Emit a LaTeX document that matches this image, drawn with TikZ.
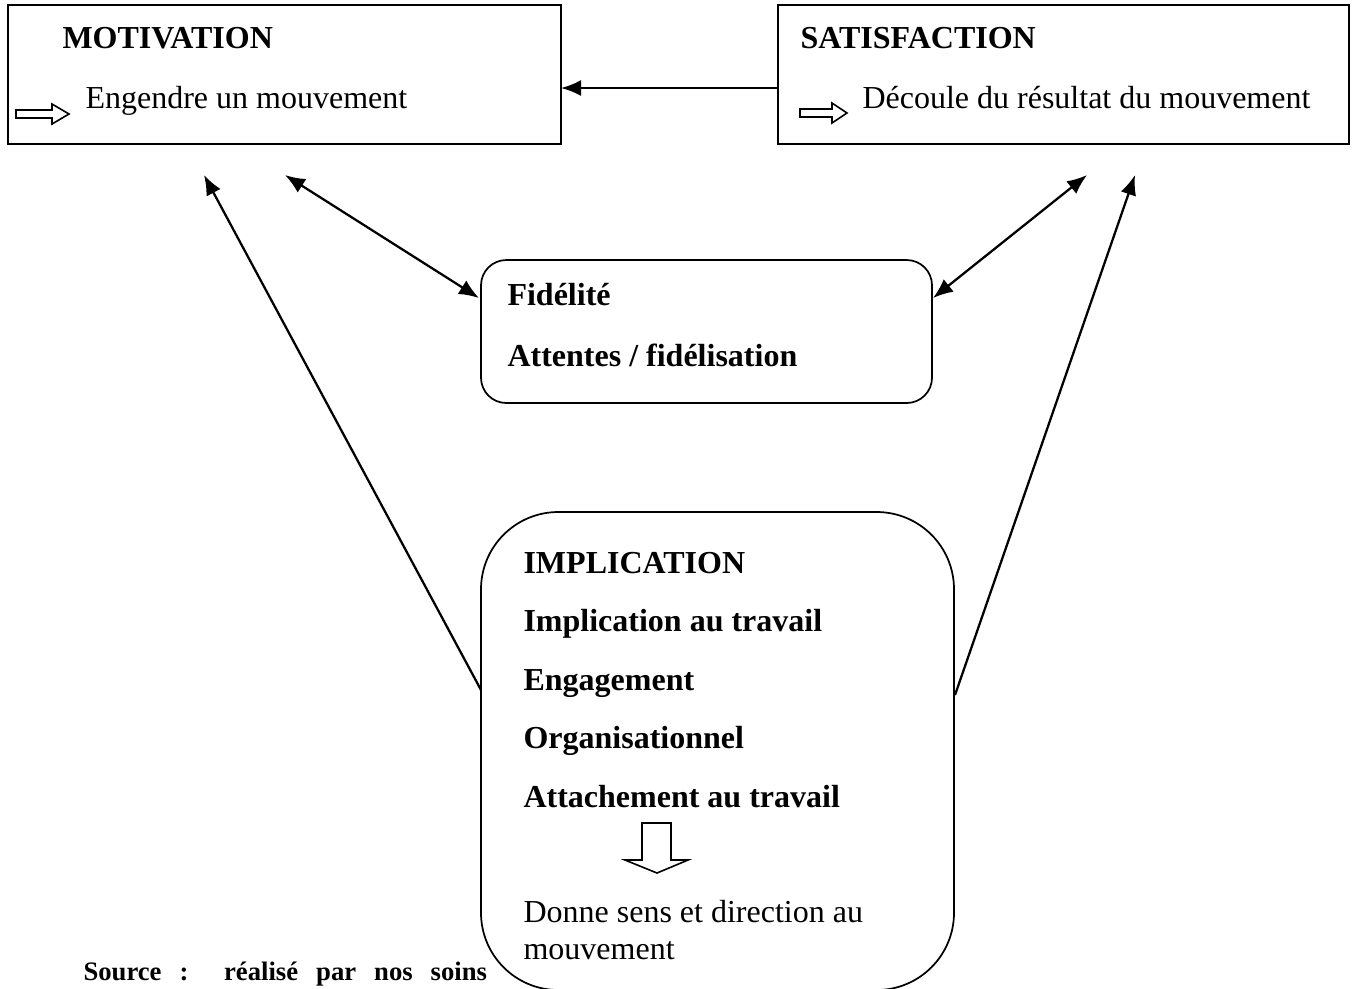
\documentclass[tikz,border=0pt]{standalone}
\usepackage{fontspec}
\setmainfont{Liberation Serif}
\usetikzlibrary{arrows.meta,fit}
\begin{document}
\begin{tikzpicture}[x=0.375pt,y=-0.375pt,
  box/.style={draw,line width=0.65pt,inner sep=0pt},
  lbl/.style={anchor=base west,inner sep=0pt,font=\fontsize{12}{14}\selectfont},
  blbl/.style={lbl,font=\fontsize{12}{14}\selectfont\bfseries},
  tip/.tip={Latex[length=7.5pt,width=6pt]},
  conn/.style={line width=0.85pt,-tip},
  dconn/.style={line width=0.85pt,tip-tip},
  hollow/.style={draw,line width=0.6pt,fill=white}]
\useasboundingbox (0,0) rectangle (1357,988);
\clip (0,0) rectangle (1357,988);
% boxes
\node[box,fit={(8,5) (561,144)}] (mot) {};
\node[box,fit={(778,5) (1349,144)}] (sat) {};
\node[box,rounded corners=9.5pt,fit={(481,260) (932,403)}] (fid) {};
\node[box,rounded corners=29pt,fit={(481,512) (954,990)}] (imp) {};
% texts
\node[blbl] (motT) at (62,48) {MOTIVATION};
\node[lbl] (motD) at (85,108) {Engendre un mouvement};
\node[blbl] (satT) at (800,48) {SATISFACTION};
\node[lbl] (satD) at (862,108) {Découle du résultat du mouvement};
\node[blbl] (fid1) at (507,305) {Fidélité};
\node[blbl] (fid2) at (507,366) {Attentes / fidélisation};
\node[blbl] (imp1) at (523,573) {IMPLICATION};
\node[blbl] (imp2) at (523,631.5) {Implication au travail};
\node[blbl] (imp3) at (523,690) {Engagement};
\node[blbl] (imp4) at (523,748.5) {Organisationnel};
\node[blbl] (imp5) at (523,807) {Attachement au travail};
\node[lbl] (imp6) at (523,922) {Donne sens et direction au};
\node[lbl] (imp7) at (523,959) {mouvement};
\node[anchor=base west,inner sep=0pt] (src) at (83,980) {\fontsize{10}{12}\selectfont\bfseries\spaceskip=0.675em Source :\hspace{0.58em} réalisé par nos soins};
% hollow arrows
\draw[hollow] (16,110) -- (52,110) -- (52,104) -- (69,114) -- (52,124) -- (52,118) -- (16,118) -- cycle;
\draw[hollow] (800,109) -- (832,109) -- (832,103) -- (847,113) -- (832,123) -- (832,117) -- (800,117) -- cycle;
\draw[hollow] (642,823) -- (671,823) -- (671,860) -- (688,860) -- (657,873) -- (625,860) -- (642,860) -- cycle;
% connector end points
\coordinate (a1) at (778,88);
\coordinate (a2) at (561,88);
\coordinate (b1) at (481,690);
\coordinate (b2) at (204,175);
\coordinate (c1) at (285,175);
\coordinate (c2) at (479,298);
\coordinate (d1) at (933,298);
\coordinate (d2) at (1087,175);
\coordinate (e1) at (955,695);
\coordinate (e2) at (1135,175);
% connectors
\draw[conn] (a1) -- (a2);
\draw[conn] (b1) -- (b2);
\draw[dconn] (c1) -- (c2);
\draw[dconn] (d1) -- (d2);
\draw[conn] (e1) -- (e2);
\end{tikzpicture}
\end{document}
